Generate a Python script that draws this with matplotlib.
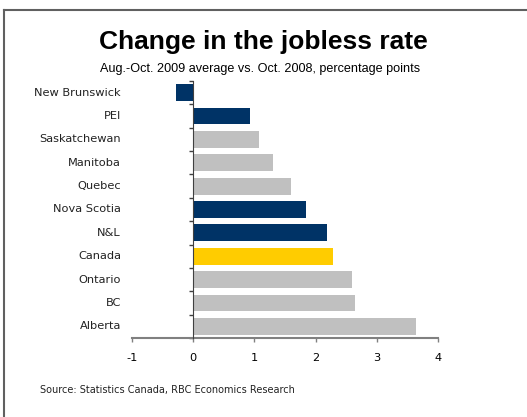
import matplotlib.pyplot as plt
from matplotlib.transforms import blended_transform_factory
from matplotlib.lines import Line2D

provinces = ["New Brunswick", "PEI", "Saskatchewan", "Manitoba", "Quebec",
             "Nova Scotia", "N&L", "Canada", "Ontario", "BC", "Alberta"]
change = [-0.28, 0.92, 1.08, 1.31, 1.60, 1.85, 2.18, 2.28, 2.60, 2.64, 3.64]
groups = ["up", "up", "flat", "flat", "flat", "up", "up", "total",
          "flat", "flat", "flat"]
x_ticks = [-1, 0, 1, 2, 3, 4]

palette = {"up": "#003366", "flat": "#C0C0C0", "total": "#FFCC00"}
colors = [palette[g] for g in groups]

fig = plt.figure(figsize=(5.27, 4.17), dpi=100)
W, H = 527, 417

# outer frame: top and left rule
fig.add_artist(Line2D([4 / W, 1], [1 - 10 / H, 1 - 10 / H], color="#606060", lw=1.5,
                      transform=fig.transFigure))
fig.add_artist(Line2D([4 / W, 4 / W], [0, 1 - 10 / H], color="#606060", lw=1.5,
                      transform=fig.transFigure))

ax = fig.add_axes([132 / W, 1 - 338 / H, (438 - 132) / W, (338 - 81) / H])

pos = list(range(len(provinces)))
ax.barh(pos, change, height=0.72, color=colors, zorder=2)
ax.set_ylim(len(provinces) - 0.5, -0.5)
ax.set_xlim(-1, 4)

for s in ["top", "right"]:
    ax.spines[s].set_visible(False)
ax.spines["left"].set_position(("data", 0))
ax.spines["left"].set_color("#404040")
ax.spines["left"].set_zorder(3)
ax.spines["bottom"].set_color("#808080")
ax.spines["bottom"].set_linewidth(1.5)

ax.set_xticks(x_ticks)
ax.set_xticklabels([str(v) for v in x_ticks], fontsize=8.2, family="DejaVu Sans")
ax.tick_params(axis="x", length=3, width=1, color="#808080", pad=8)

# category dividers as tick marks on the zero axis
ax.set_yticks([p - 0.5 for p in pos] + [len(provinces) - 0.5])
ax.set_yticklabels([])
ax.tick_params(axis="y", length=3, width=1, color="#404040", direction="out")

trans = blended_transform_factory(fig.transFigure, ax.transData)
for p, name in zip(pos, provinces):
    ax.text(121 / W, p, name, transform=trans, ha="right", va="center",
            fontsize=8.2, family="DejaVu Sans", color="#222222")

fig.text(263 / W, 1 - 42 / H, "Change in the jobless rate", ha="center", va="center",
         fontsize=19, fontweight="bold", family="Liberation Sans")
fig.text(260 / W, 1 - 69 / H, "Aug.-Oct. 2009 average vs. Oct. 2008, percentage points",
         ha="center", va="center", fontsize=9.1, family="Liberation Sans")
fig.text(40 / W, 1 - 390 / H, "Source: Statistics Canada, RBC Economics Research",
         ha="left", va="center", fontsize=7, family="DejaVu Sans", color="#222222")

fig.savefig("out.png", dpi=100)
